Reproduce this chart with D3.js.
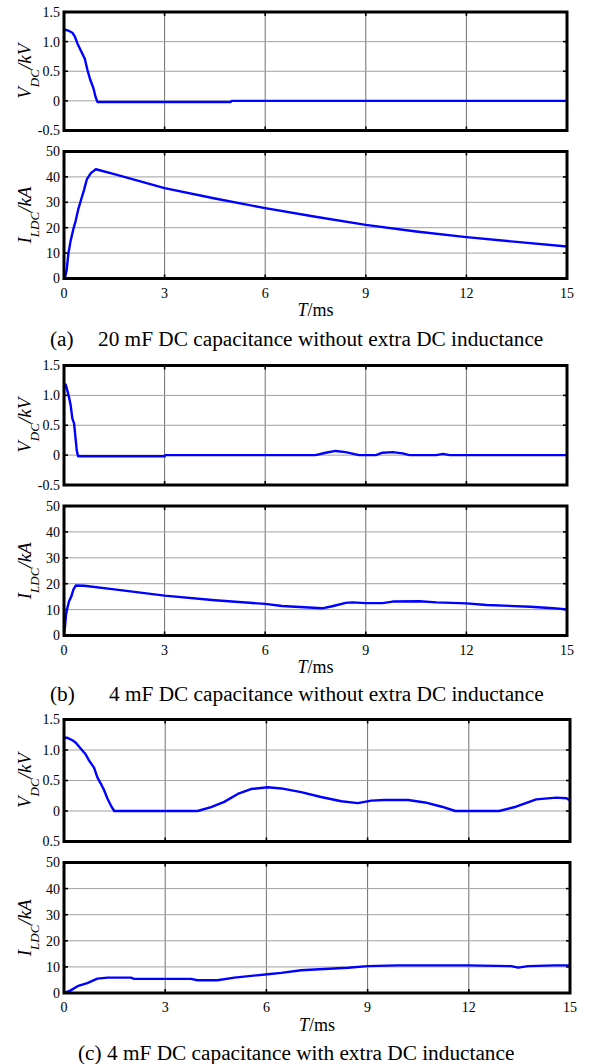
<!DOCTYPE html>
<html>
<head>
<meta charset="UTF-8">
<style>
  body { margin: 0; background: #fff; }
  svg { display: block; font-family: "Liberation Serif", "DejaVu Serif", "Times New Roman", Times, serif; }
  svg text { font-family: "Liberation Serif", "DejaVu Serif", "Times New Roman", Times, serif; fill: #000; }
  .grid-v { stroke: #707070; stroke-width: 1; }
  .grid-h { stroke: #a0a0a0; stroke-width: 1; }
  .frame { fill: none; stroke: #000; stroke-width: 3; }
  .tick { stroke: #000; stroke-width: 1.6; }
  .curve { fill: none; stroke: #0000ff; stroke-width: 2.4; stroke-linejoin: round; }
</style>
</head>
<body>
<svg id="chart" width="590" height="1064"></svg>
<script src="https://d3js.org/d3.v7.min.js"></script>
<script>
// ---- data, [time ms, value] ----
const xTicks = [0, 3, 6, 9, 12, 15];
const vTicks = [-0.5, 0, 0.5, 1.0, 1.5];
const vTickLabels = ["-0.5", "0", "0.5", "1.0", "1.5"];
const vTickLabelsC = ["0.5", "0", "0.5", "1.0", "1.5"]; // minus is missing in panel (c)
const iTicks = [0, 10, 20, 30, 40, 50];
const iTickLabels = ["0", "10", "20", "30", "40", "50"];

const vdcA = [[0,0],[0,1.2],[0.05,1.2],[0.15,1.18],[0.25,1.15],[0.32,1.09],[0.4,0.97],[0.5,0.85],[0.62,0.71],[0.7,0.52],[0.78,0.36],[0.88,0.21],[0.94,0.07],[1.0,-0.02],[4.97,-0.02],[5.0,0],[15,0]];
const ildcA = [[0,0],[0.03,0.4],[0.08,3.3],[0.13,9.8],[0.2,15],[0.28,19.5],[0.35,22.8],[0.42,27],[0.5,30.6],[0.6,35],[0.68,39],[0.8,41.5],[0.95,43],[1.5,41.1],[3,35.6],[4.5,31.5],[6,27.7],[7.5,24.3],[9,21.1],[10.5,18.5],[12,16.3],[13.5,14.4],[15,12.6]];

const vdcB = [[0,0],[0,1.2],[0.05,1.18],[0.1,1.08],[0.15,0.97],[0.2,0.83],[0.25,0.61],[0.3,0.53],[0.35,0.25],[0.38,0.08],[0.42,-0.02],[3,-0.02],[3.02,0],[7.5,0],[7.8,0.04],[8.1,0.07],[8.4,0.05],[8.8,0],[9.3,0],[9.5,0.04],[9.8,0.05],[10.1,0.03],[10.3,0],[11.1,0],[11.3,0.02],[11.5,0],[15,0]];
const ildcB = [[0,0],[0.03,3.5],[0.06,8],[0.1,10.6],[0.15,13.2],[0.22,15.1],[0.28,17.7],[0.35,19.3],[0.6,19.2],[1.5,17.8],[3,15.4],[4.5,13.6],[6,12.2],[6.5,11.4],[7.3,10.8],[7.7,10.5],[8.0,11.3],[8.4,12.6],[8.6,12.8],[9.0,12.5],[9.5,12.5],[9.8,13.1],[10.6,13.2],[11.1,12.8],[12,12.4],[12.6,11.8],[13.9,11.1],[14.6,10.5],[15,10.1]];

const vdcC = [[0,0],[0,1.2],[0.1,1.2],[0.25,1.16],[0.35,1.12],[0.5,1.02],[0.64,0.93],[0.74,0.83],[0.89,0.71],[0.99,0.55],[1.09,0.45],[1.19,0.34],[1.29,0.2],[1.39,0.09],[1.49,0],[3.96,0],[4.36,0.065],[4.75,0.15],[5.15,0.28],[5.54,0.36],[6.04,0.39],[6.44,0.37],[7.03,0.31],[7.62,0.23],[8.22,0.16],[8.71,0.13],[9.11,0.17],[9.5,0.18],[10.2,0.18],[10.7,0.14],[11.2,0.07],[11.6,0],[12.9,0],[13.4,0.07],[14.0,0.19],[14.6,0.22],[14.9,0.21],[15,0.17]];
const ildcC = [[0,0],[0.2,1],[0.4,2.6],[0.69,3.8],[0.99,5.5],[1.29,5.9],[1.98,5.9],[2.08,5.4],[3.76,5.4],[3.96,4.9],[4.55,4.9],[5.05,5.9],[6.04,7.2],[6.44,7.7],[7.03,8.7],[7.43,9.0],[8.42,9.7],[9.0,10.3],[9.9,10.6],[11.97,10.6],[13.26,10.3],[13.46,9.7],[13.76,10.3],[14.55,10.6],[15,10.6]];

const captionA = ["(a)", "20 mF DC capacitance without extra DC inductance"];
const captionB = ["(b)", "4 mF DC capacitance without extra DC inductance"];
const captionC = ["(c) 4 mF DC capacitance with extra DC inductance"];

// ---- layout ----
const groups = [
  { x0: 64, x1: 567, vTop: 12, vBot: 130.5, iTop: 151.5, iBot: 278.5, vData: vdcA, iData: ildcA, vLabels: vTickLabels,
    caption: captionA, capX: [50, 98], capY: 346 },
  { x0: 64, x1: 567, vTop: 365.5, vBot: 485, iTop: 506, iBot: 635.5, vData: vdcB, iData: ildcB, vLabels: vTickLabels,
    caption: captionB, capX: [50, 109], capY: 700.5 },
  { x0: 64, x1: 570, vTop: 719.5, vBot: 841.5, iTop: 862.5, iBot: 993, vData: vdcC, iData: ildcC, vLabels: vTickLabelsC,
    caption: captionC, capX: [78], capY: 1060 }
];

const FONT = '"Liberation Serif", "DejaVu Serif", serif';
const svg = d3.select("#chart");
let clipId = 0;

function drawPanel(x, top, bot, domain, ticks, labels, data, title) {
  let y = d3.scaleLinear().domain(domain).range([bot, top]);
  let g = svg.append("g");
  let [x0, x1] = x.range();

  // grid
  g.selectAll(".grid-v").data(xTicks.slice(1, -1)).enter().append("line")
    .attr("class", "grid-v")
    .attr("x1", d => x(d)).attr("x2", d => x(d))
    .attr("y1", top).attr("y2", bot);
  g.selectAll(".grid-h").data(ticks.slice(1, -1)).enter().append("line")
    .attr("class", "grid-h")
    .attr("x1", x0).attr("x2", x1)
    .attr("y1", d => y(d)).attr("y2", d => y(d));

  // inward ticks on all four sides
  xTicks.forEach(t => {
    g.append("line").attr("class", "tick").attr("x1", x(t)).attr("x2", x(t)).attr("y1", top).attr("y2", top + 4);
    g.append("line").attr("class", "tick").attr("x1", x(t)).attr("x2", x(t)).attr("y1", bot).attr("y2", bot - 4);
  });
  ticks.forEach(t => {
    g.append("line").attr("class", "tick").attr("x1", x0).attr("x2", x0 + 4).attr("y1", y(t)).attr("y2", y(t));
    g.append("line").attr("class", "tick").attr("x1", x1).attr("x2", x1 - 4).attr("y1", y(t)).attr("y2", y(t));
  });

  // curve
  let id = "clip" + (clipId++);
  svg.append("clipPath").attr("id", id).append("rect")
    .attr("x", x0).attr("y", top - 1).attr("width", x1 - x0).attr("height", bot - top + 2);
  let line = d3.line().x(d => x(d[0])).y(d => y(d[1]));
  g.append("path").datum(data).attr("class", "curve")
    .attr("clip-path", "url(#" + id + ")")
    .attr("d", line);

  g.append("rect").attr("class", "frame")
    .attr("x", x0).attr("y", top).attr("width", x1 - x0).attr("height", bot - top);

  // y tick labels
  g.selectAll(".ylab").data(ticks).enter().append("text")
    .attr("x", x0 - 4).attr("y", d => y(d))
    .attr("dy", "0.35em")
    .attr("text-anchor", "end")
    .attr("font-family", FONT)
    .style("font-size", "14px")
    .text((d, i) => labels[i]);

  // y title, rotated
  let t = g.append("text")
    .attr("transform", "translate(31," + ((top + bot) / 2) + ") rotate(-90)")
    .attr("text-anchor", "middle")
    .attr("font-family", FONT)
    .style("font-size", "19px")
    .style("font-style", "italic");
  t.append("tspan").text(title[0]);
  t.append("tspan").attr("baseline-shift", "sub").style("font-size", "13px").text(title[1]);
  t.append("tspan").text(title[2]);
}

groups.forEach(p => {
  let x = d3.scaleLinear().domain([0, 15]).range([p.x0, p.x1]);
  drawPanel(x, p.vTop, p.vBot, [-0.5, 1.5], vTicks, p.vLabels, p.vData, ["V", "DC", "/kV"]);
  drawPanel(x, p.iTop, p.iBot, [0, 50], iTicks, iTickLabels, p.iData, ["I", "LDC", "/kA"]);

  svg.selectAll(null).data(xTicks).enter().append("text")
    .attr("x", d => x(d)).attr("y", p.iBot + 19)
    .attr("text-anchor", "middle")
    .attr("font-family", FONT)
    .style("font-size", "14px")
    .text(d => d);

  let tl = svg.append("text")
    .attr("x", (p.x0 + p.x1) / 2).attr("y", p.iBot + 37.5)
    .attr("text-anchor", "middle")
    .attr("font-family", FONT)
    .style("font-size", "18px");
  tl.append("tspan").style("font-style", "italic").text("T");
  tl.append("tspan").text("/ms");

  p.caption.forEach((c, i) => {
    svg.append("text")
      .attr("x", p.capX[i]).attr("y", p.capY)
      .attr("font-family", FONT)
      .style("font-size", "21.3px")
      .text(c);
  });
});
</script>
</body>
</html>
